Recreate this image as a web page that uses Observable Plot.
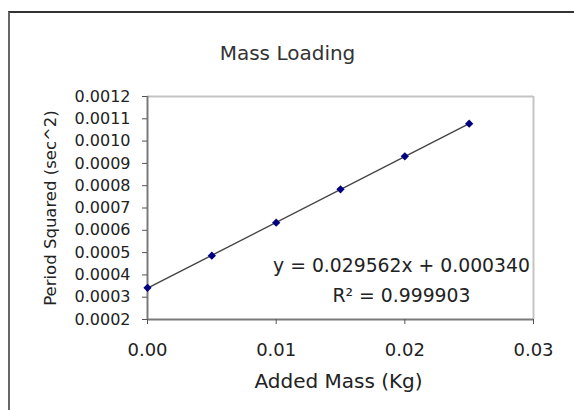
<!DOCTYPE html>
<html>
<head>
<meta charset="utf-8">
<script src="https://cdn.jsdelivr.net/npm/d3@7"></script>
<script src="https://cdn.jsdelivr.net/npm/@observablehq/plot@0.6"></script>
<style>
  html, body { margin: 0; padding: 0; background: #fff; }
  #wrap { position: relative; width: 574px; height: 410px; overflow: hidden; }
  #box { position: absolute; left: 8px; top: 11px; width: 700px; height: 500px;
         border-top: 2px solid #333; border-left: 2px solid #666; box-sizing: border-box; }
  #chart { position: absolute; left: 0; top: 0; }
  #chart svg { background: transparent !important; }
</style>
</head>
<body>
<div id="wrap"><div id="box"></div><div id="chart"></div></div>
<script>
const chartTitle = "Mass Loading";
const xLabel = "Added Mass (Kg)";
const yLabel = "Period Squared (sec^2)";
const addedMass = [0, 0.005, 0.01, 0.015, 0.02, 0.025];
const periodSquared = [0.000342, 0.000486, 0.000634, 0.000784, 0.000932, 0.001078];
const xTicks = [0, 0.01, 0.02, 0.03];
const yTicks = [0.0002, 0.0003, 0.0004, 0.0005, 0.0006, 0.0007, 0.0008, 0.0009, 0.0010, 0.0011, 0.0012];
const fitLines = ["y = 0.029562x + 0.000340", "R\u00b2 = 0.999903"];

const data = addedMass.map((m, i) => ({m, p: periodSquared[i]}));
const font = "DejaVu Sans, Arial, sans-serif";

const plot = Plot.plot({
  width: 574,
  height: 410,
  marginLeft: 147,
  marginRight: 41,
  marginTop: 96,
  marginBottom: 91,
  style: {fontFamily: font, background: "transparent", color: "#222"},
  x: {domain: [0, 0.03], ticks: xTicks, tickFormat: d3.format(".2f")},
  y: {domain: [0.0002, 0.0012], ticks: yTicks, tickFormat: d3.format(".4f")},
  marks: [
    Plot.ruleY([0.0012], {stroke: "#c4c4c4", strokeWidth: 2}),
    Plot.ruleX([0.03], {stroke: "#c4c4c4", strokeWidth: 2}),
    Plot.ruleX([0], {stroke: "#7a7a7a", strokeWidth: 2}),
    Plot.ruleY([0.0002], {stroke: "#7a7a7a", strokeWidth: 2}),
    Plot.axisY({ticks: yTicks, tickFormat: d3.format(".4f"), tickSize: 5, tickPadding: 12,
                stroke: "#555", fontSize: 16, label: null}),
    Plot.axisX({ticks: xTicks, tickFormat: d3.format(".2f"), tickSize: 5, tickPadding: 19,
                stroke: "#555", fontSize: 18, label: null}),
    Plot.linearRegressionY(data, {x: "m", y: "p", ci: 0, stroke: "#444", strokeWidth: 1.4}),
    Plot.dot(data, {x: "m", y: "p", symbol: "square", rotate: 45, r: 3.3, fill: "#000080", stroke: "none"}),
    Plot.text([fitLines[0]], {frameAnchor: "bottom-right", dx: -132, dy: -48, textAnchor: "middle",
                text: d => d, fontSize: 18.8, fill: "#222"}),
    Plot.text([fitLines[1]], {frameAnchor: "bottom-right", dx: -132, dy: -18, textAnchor: "middle",
                text: d => d, fontSize: 18.8, fill: "#222"}),
    Plot.text([xLabel], {frameAnchor: "bottom", dx: -2, dy: 68, text: d => d, fontSize: 20, fill: "#222"}),
    Plot.text([yLabel], {frameAnchor: "left", dx: -97, rotate: -90, textAnchor: "middle",
                text: d => d, fontSize: 16.5, fill: "#222"}),
    Plot.text([chartTitle], {frameAnchor: "top", dx: -53, dy: -51, text: d => d, fontSize: 20, fill: "#333"})
  ]
});
document.getElementById("chart").appendChild(plot);
</script>
</body>
</html>
